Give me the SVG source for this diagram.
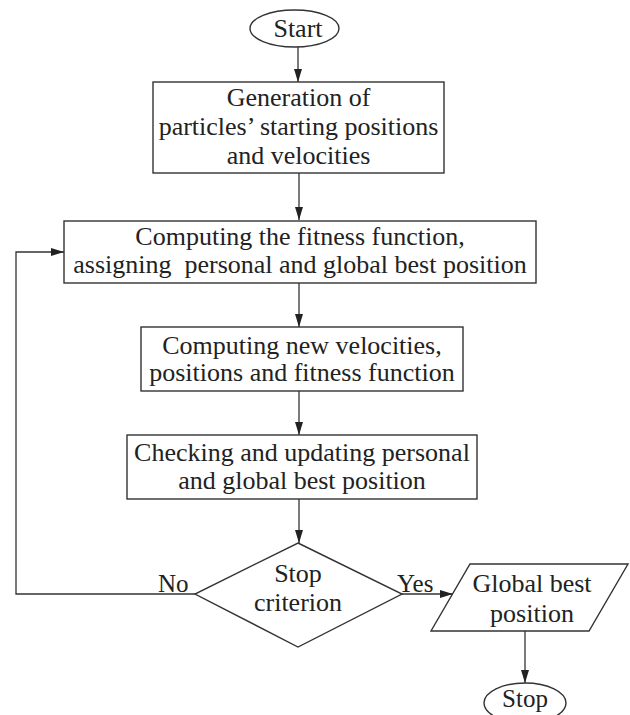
<svg xmlns="http://www.w3.org/2000/svg" width="630" height="715" viewBox="0 0 630 715">
<style>
.shape{fill:#fff;stroke:#333;stroke-width:1.4}
.edge{fill:none;stroke:#333;stroke-width:1.3}
text{font-family:"Liberation Serif","Times New Roman",serif;font-size:26px;fill:#222;text-anchor:middle}
.lbl{font-size:25px}
</style>
<defs>
<marker id="arr" markerUnits="userSpaceOnUse" markerWidth="13" markerHeight="8" refX="13" refY="4" orient="auto">
<path d="M0,0 L13,4 L0,8 z" fill="#222"/>
</marker>
</defs>
<rect width="630" height="715" fill="#fff"/>
<g id="connectors">
<line class="edge" x1="298" y1="47" x2="298" y2="82" marker-end="url(#arr)"/>
<line class="edge" x1="299" y1="173" x2="299" y2="220" marker-end="url(#arr)"/>
<line class="edge" x1="299" y1="283" x2="299" y2="327" marker-end="url(#arr)"/>
<line class="edge" x1="299" y1="391" x2="299" y2="435" marker-end="url(#arr)"/>
<line class="edge" x1="299" y1="499" x2="299" y2="543" marker-end="url(#arr)"/>
<polyline class="edge" points="195,594 16,594 16,252 64,252" marker-end="url(#arr)"/>
<line class="edge" x1="402" y1="594" x2="453" y2="594" marker-end="url(#arr)"/>
<line class="edge" x1="525" y1="631" x2="525" y2="683" marker-end="url(#arr)"/>
<text class="lbl" x="158" y="592" style="text-anchor:start">No</text>
<text class="lbl" x="397" y="592" style="text-anchor:start">Yes</text>
</g>
<g id="start">
<ellipse class="shape" cx="294.5" cy="28.5" rx="44.5" ry="18.5"/>
<text x="298" y="37">Start</text>
</g>
<g id="generation">
<rect class="shape" x="153" y="82" width="291" height="91"/>
<text x="298.5" y="106">Generation of</text>
<text x="298.5" y="135">particles’ starting positions</text>
<text x="298.5" y="164">and velocities</text>
</g>
<g id="fitness">
<rect class="shape" x="64" y="221" width="472" height="62"/>
<text x="300" y="245">Computing the fitness function,</text>
<text x="300" y="273" xml:space="preserve">assigning  personal and global best position</text>
</g>
<g id="newvel">
<rect class="shape" x="141" y="327" width="322" height="64"/>
<text x="302" y="354">Computing new velocities,</text>
<text x="302" y="381">positions and fitness function</text>
</g>
<g id="update">
<rect class="shape" x="127" y="435" width="350" height="64"/>
<text x="302" y="461">Checking and updating personal</text>
<text x="302" y="489">and global best position</text>
</g>
<g id="criterion">
<polygon class="shape" points="298,543 402,594 298,647 195,594"/>
<text x="298" y="582">Stop</text>
<text x="298" y="611">criterion</text>
</g>
<g id="result">
<polygon class="shape" points="470,564 628,564 589,631 431,631"/>
<text x="532" y="592">Global best</text>
<text x="532" y="622">position</text>
</g>
<g id="stop">
<ellipse class="shape" cx="525" cy="703" rx="41" ry="20"/>
<text x="525" y="707" style="font-size:25px">Stop</text>
</g>
</svg>
